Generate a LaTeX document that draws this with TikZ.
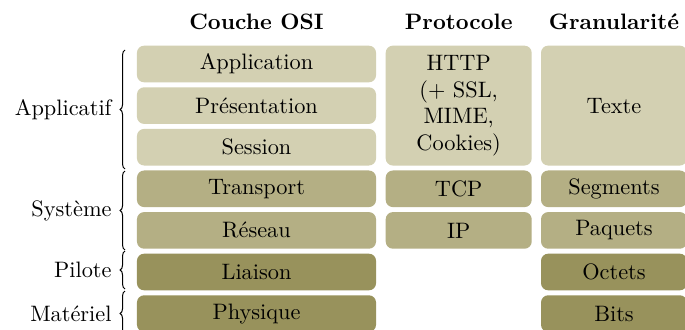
\documentclass[tikz,border=0pt]{standalone}
\usetikzlibrary{decorations.pathreplacing}
\definecolor{lightol}{RGB}{211,208,178}
\definecolor{midol}{RGB}{180,175,132}
\definecolor{darkol}{RGB}{152,146,92}
\tikzset{
  layerbox/.style={rounded corners=3.2pt, inner sep=0pt, align=center, text=black},
  osibox/.style={layerbox, minimum width=107.1pt, minimum height=16.4pt},
  colbox/.style={layerbox, minimum width=65.4pt, minimum height=16.4pt},
  header/.style={font=\bfseries, inner sep=0pt},
  grouplabel/.style={anchor=east, inner sep=0pt},
  bracedeco/.style={decorate, decoration={brace, amplitude=2.2pt}, line width=0.45pt}
}
\begin{document}
\begin{tikzpicture}[x=0.448pt, y=-0.448pt]
\clip (0,0) rectangle (685,329);
\fill[white] (0,0) rectangle (685,329);
% headers
\node[header] (hosi) at (256.5,22) {Couche OSI};
\node[header] (hproto) at (458.7,22) {Protocole};
\node[header] (hgran) at (614,22) {Granularit\'e};
% OSI column
\node[osibox, fill=lightol] (app) at (256.5,64) {Application};
\node[osibox, fill=lightol] (pres) at (256.5,105.6) {Pr\'esentation};
\node[osibox, fill=lightol] (sess) at (256.5,147.2) {Session};
\node[osibox, fill=midol] (trans) at (256.5,188.8) {Transport};
\node[osibox, fill=midol] (res) at (256.5,230.4) {R\'eseau};
\node[osibox, fill=darkol] (liai) at (256.5,272) {Liaison};
\node[osibox, fill=darkol] (phys) at (256.5,313.6) {Physique};
% Protocol column
\node[colbox, fill=lightol, minimum height=53.7pt] (http) at (458.7,105.6) {HTTP\\(+ SSL,\\MIME,\\Cookies)};
\node[colbox, fill=midol] (tcp) at (458.7,188.8) {TCP};
\node[colbox, fill=midol] (ip) at (458.7,230.4) {IP};
% Granularity column
\node[colbox, fill=lightol, minimum height=53.7pt] (texte) at (614,105.6) {Texte};
\node[colbox, fill=midol] (seg) at (614,188.8) {Segments};
\node[colbox, fill=midol] (paq) at (614,230.4) {Paquets};
\node[colbox, fill=darkol] (oct) at (614,272) {Octets};
\node[colbox, fill=darkol] (bits) at (614,313.6) {Bits};
% braces
\coordinate (a1) at (125,50);
\coordinate (a2) at (125,169);
\coordinate (s1) at (125,171);
\coordinate (s2) at (125,250);
\coordinate (p1) at (125,251);
\coordinate (p2) at (125,289);
\coordinate (m1) at (125,291);
\coordinate (m2) at (125,336);
\draw[bracedeco] (a2) -- (a1);
\draw[bracedeco] (s2) -- (s1);
\draw[bracedeco] (p2) -- (p1);
\draw[bracedeco] (m2) -- (m1);
\node[grouplabel] (lapp) at (112,109.5) {Applicatif};
\node[grouplabel] (lsys) at (112,210.5) {Syst\`eme};
\node[grouplabel] (lpil) at (112,270) {Pilote};
\node[grouplabel] (lmat) at (112,313.5) {Mat\'eriel};
\end{tikzpicture}
\end{document}
